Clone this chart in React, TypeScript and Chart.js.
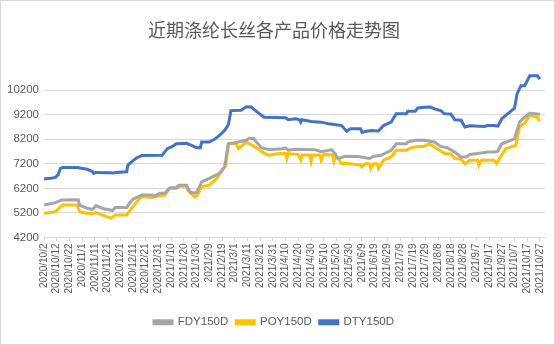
import React, { useEffect, useRef } from "react";
import { Chart, registerables } from "chart.js";

Chart.register(...registerables);

const TITLE = "近期涤纶长丝各产品价格走势图";
const START_DATE = [2020, 10, 2]; // day 0 of the x axis
const X_TICK_DAYS = [0,10,20,30,40,50,60,70,80,90,100,110,120,130,140,150,160,170,180,190,200,210,220,230,240,250,260,270,280,290,300,310,320,330,340,350,360,370,380,390];
const Y_TICKS = [4200, 5200, 6200, 7200, 8200, 9200, 10200];

// Days since 2020/10/2 and prices
const fdyDays = [0,9,14,27,28,34,38,41,46,52,54,56,65,67,70,77,85,87,91,95,99,104,106,112,114,116,120,124,130,138,142,145,153,159,161,165,167,171,177,187,190,192,198,213,218,223,226,229,231,237,247,256,259,265,273,277,285,286,292,299,307,312,317,323,328,332,335,341,349,354,357,360,367,370,374,378,382,388,390];
const fdyValues = [5520,5620,5730,5740,5520,5390,5340,5500,5380,5320,5300,5420,5420,5590,5760,5930,5930,5890,6000,6000,6230,6230,6330,6330,6130,6020,6020,6470,6610,6810,7080,8020,8090,8160,8230,8230,8090,7860,7780,7820,7850,7760,7800,7780,7700,7740,7780,7620,7420,7510,7500,7420,7500,7550,7750,8020,8020,8090,8160,8160,8090,7910,7860,7680,7480,7480,7580,7620,7680,7680,7720,8020,8160,8230,8900,9100,9260,9230,9210];

const poyDays = [0,9,13,15,26,28,34,38,41,44,49,53,56,65,69,73,77,85,89,95,99,104,106,112,114,117,119,121,124,130,136,140,143,145,151,153,159,163,167,173,177,185,190,191,192,200,202,203,209,210,211,217,218,220,227,228,229,231,234,239,249,250,253,256,257,259,262,263,267,273,277,285,289,294,299,303,308,315,320,323,328,331,335,341,342,344,354,356,359,363,371,374,378,382,388,390];
const poyValues = [5190,5250,5460,5520,5520,5250,5190,5170,5220,5150,5050,4990,5120,5120,5390,5660,5860,5830,5880,5930,6200,6200,6290,6290,6060,5930,5840,5950,6270,6330,6610,6940,7140,8020,8020,7820,8090,7980,7860,7640,7550,7620,7620,7420,7620,7580,7350,7560,7560,7300,7550,7560,7350,7580,7570,7300,7480,7450,7210,7210,7150,7080,7210,7200,7010,7200,7200,7010,7350,7480,7750,7750,7860,7910,7910,8020,7860,7620,7600,7420,7400,7210,7350,7350,7140,7350,7350,7210,7480,7820,7950,8700,8860,9170,9100,8940];

const dtyDays = [0,5,9,11,13,15,27,28,34,38,39,41,52,54,59,65,66,70,73,77,93,97,101,104,112,116,120,123,124,130,134,138,142,145,147,155,159,163,167,173,190,192,198,201,202,203,210,218,224,234,238,241,249,250,257,263,267,273,277,285,286,292,294,299,304,307,312,315,320,323,328,331,335,346,349,354,357,360,366,370,372,375,378,382,388,390];
const dtyValues = [6580,6610,6650,6750,7020,7050,7050,7030,6980,6890,6810,6850,6840,6830,6860,6880,7150,7330,7450,7540,7550,7820,7910,8020,8040,7950,7860,7860,8090,8090,8200,8360,8560,8800,9370,9380,9530,9520,9340,9100,9080,9000,9040,9000,8900,9000,8930,8900,8830,8760,8530,8630,8630,8490,8560,8540,8760,8900,9240,9240,9340,9340,9480,9510,9520,9440,9370,9240,9230,9000,8980,8700,8750,8720,8760,8760,8740,9040,9300,9470,10050,10380,10380,10790,10790,10660];

const SERIES = [
  { label: "FDY150D", days: fdyDays, values: fdyValues, color: "#A5A5A5" },
  { label: "POY150D", days: poyDays, values: poyValues, color: "#FFC000" },
  { label: "DTY150D", days: dtyDays, values: dtyValues, color: "#4472C4" },
];

function dayLabel(d: number): string {
  const dt = new Date(Date.UTC(START_DATE[0], START_DATE[1] - 1, START_DATE[2] + d));
  return `${dt.getUTCFullYear()}/${dt.getUTCMonth() + 1}/${dt.getUTCDate()}`;
}

export default function App() {
  const ref = useRef<HTMLCanvasElement | null>(null);
  useEffect(() => {
    if (!ref.current) return;
    const chart = new Chart(ref.current, {
      type: "line",
      data: {
        datasets: SERIES.map((s) => ({
          label: s.label,
          data: s.days.map((d, i) => ({ x: d, y: s.values[i] })),
          borderColor: s.color,
          backgroundColor: s.color,
          borderWidth: 3,
          pointRadius: 0,
          tension: 0,
          fill: false,
        })),
      },
      options: {
        responsive: false,
        animation: false,
        layout: { padding: { left: 0, right: 7, top: 0, bottom: 6 } },
        plugins: {
          title: {
            display: true,
            text: TITLE,
            color: "#595959",
            font: { family: "'Noto Sans CJK SC', sans-serif", size: 18, weight: "normal" },
            padding: { top: 18, bottom: 30 },
          },
          legend: {
            position: "bottom",
            labels: {
              boxWidth: 18,
              boxHeight: 3,
              color: "#595959",
              font: { family: "'Liberation Sans', Arial, sans-serif", size: 11.5 },
              padding: 8,
            },
          },
          tooltip: { enabled: false },
        },
        scales: {
          x: {
            type: "linear",
            min: 0,
            max: 394,
            afterBuildTicks: (scale: any) => {
              scale.ticks = X_TICK_DAYS.map((v) => ({ value: v }));
            },
            afterFit: (scale: any) => {
              scale.height = 71;
            },
            ticks: {
              autoSkip: false,
              minRotation: 90,
              maxRotation: 90,
              color: "#595959",
              font: { family: "'Liberation Sans', Arial, sans-serif", size: 10 },
              padding: 2,
              callback: (v: any) => dayLabel(Number(v)),
            },
            grid: { drawOnChartArea: false, drawTicks: true, tickLength: 4, color: "#D9D9D9" },
            border: { display: true, color: "#D9D9D9" },
          },
          y: {
            min: 4200,
            max: 11000,
            afterBuildTicks: (scale: any) => {
              scale.ticks = Y_TICKS.map((v) => ({ value: v }));
            },
            afterFit: (scale: any) => {
              scale.width = 43;
            },
            ticks: {
              color: "#595959",
              font: { family: "'Liberation Sans', Arial, sans-serif", size: 11.5 },
              padding: 5,
              callback: (v: any) => String(v),
            },
            grid: { color: "#D9D9D9", drawTicks: false },
            border: { display: false },
          },
        },
      },
    });
    return () => chart.destroy();
  }, []);
  return (
    <div
      style={{
        position: "absolute",
        left: 0,
        top: 0,
        width: 555,
        height: 345,
        boxSizing: "border-box",
        border: "1px solid #D9D9D9",
        background: "#fff",
      }}
    >
      <canvas ref={ref} width={553} height={343} style={{ display: "block" }} />
    </div>
  );
}
